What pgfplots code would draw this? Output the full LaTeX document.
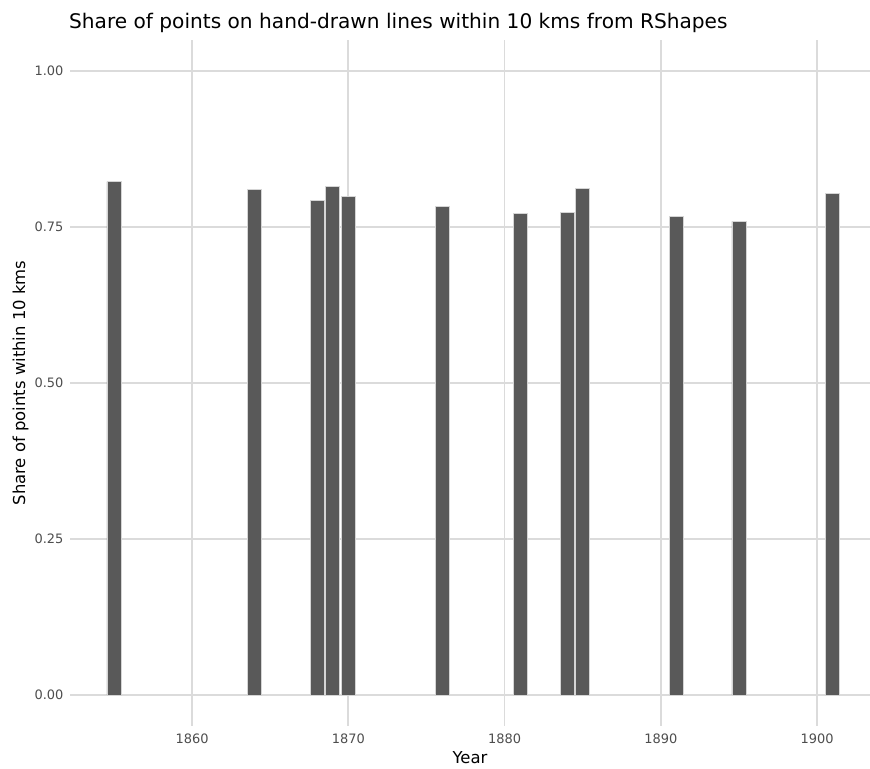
\documentclass[border=0pt]{standalone}
\usepackage{pgfplots}
\pgfplotsset{compat=1.18}
\usepackage{fontspec}
\setmainfont{DejaVu Sans}
\definecolor{barfill}{HTML}{595959}
\definecolor{gridc}{HTML}{DBDBDB}
\definecolor{tickc}{HTML}{4D4D4D}
\pgfplotstableread{
year share
1855 0.823
1864 0.811
1868 0.793
1869 0.815
1870 0.799
1876 0.783
1881 0.772
1884 0.774
1885 0.812
1891 0.767
1895 0.759
1901 0.804
}\datatable
\begin{document}
\begin{tikzpicture}[x=1bp,y=1bp]
\path[use as bounding box] (0,0) rectangle (870,769);
\begin{axis}[
  at={(70bp,43bp)}, anchor=south west,
  scale only axis, width=800bp, height=686bp,
  xmin=1852.19, xmax=1903.39, ymin=-0.05, ymax=1.05,
  axis line style={draw=none},
  major tick length=0pt,
  xtick={1860,1870,1880,1890,1900},
  ytick={0,0.25,0.5,0.75,1},
  xticklabels={1860,1870,1880,1890,1900},
  yticklabel style={/pgf/number format/fixed, /pgf/number format/fixed zerofill, /pgf/number format/precision=2},
  /pgf/number format/assume math mode=true,
  ticklabel style={font=\fontsize{13}{15}\selectfont, text=tickc},
  xticklabel style={yshift=-4bp},
  yticklabel style={xshift=-3bp},
  grid=major,
  major grid style={draw=gridc, line width=1.6bp},
  xlabel={Year}, ylabel={Share of points within 10 kms},
  every axis x label/.style={at={(axis description cs:0.5,-0.0545)}, anchor=base, font=\fontsize{16.5}{18}\selectfont, text=black},
  every axis y label/.style={at={(axis description cs:-0.056,0.5)}, anchor=base, rotate=90, font=\fontsize{16.5}{18}\selectfont, text=black},
  clip=false,
]
\addplot[ybar, bar width=0.9, fill=barfill, draw=white!75!barfill, line width=0.5bp] table[x=year, y=share] {\datatable};
\end{axis}
\node[anchor=base west, inner sep=0pt, font=\fontsize{20.2}{22}\selectfont] at (69,740) {Share of points on hand-drawn lines within 10 kms from RShapes};
\end{tikzpicture}
\end{document}
